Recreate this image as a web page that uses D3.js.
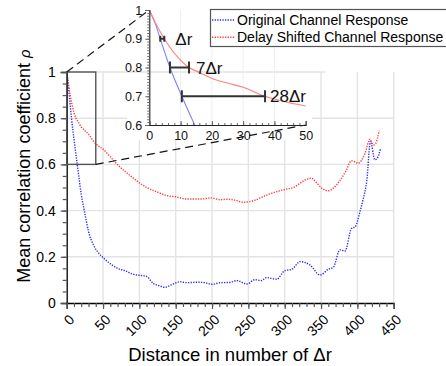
<!DOCTYPE html>
<html>
<head>
<meta charset="utf-8">
<script src="https://cdn.jsdelivr.net/npm/d3@7"></script>
<style>
  body { margin: 0; background: #fff; }
  text { font-family: "Liberation Sans", Arial, Helvetica, sans-serif; }
</style>
</head>
<body>
<svg id="chart"></svg>
<script>
// values
const origDist = [0, 2, 3.5, 6.6, 10.4, 14.5, 17, 20, 23, 27, 30, 37, 43, 49, 60, 70, 80, 92, 105, 110, 119, 127, 135, 145, 156, 165, 179, 190, 199.5, 212, 225, 234, 248, 259, 268, 275, 289, 300, 310, 321, 335, 348.6, 360, 367, 376, 383, 392, 397, 403.6, 408, 413, 418, 424, 427, 432];
const origRho = [1, 0.95, 0.9, 0.8, 0.7, 0.6, 0.54, 0.47, 0.42, 0.355, 0.31, 0.25, 0.22, 0.2, 0.17, 0.15, 0.14, 0.124, 0.118, 0.115, 0.085, 0.075, 0.068, 0.08, 0.092, 0.088, 0.09, 0.088, 0.081, 0.088, 0.089, 0.097, 0.082, 0.101, 0.097, 0.11, 0.103, 0.14, 0.146, 0.179, 0.164, 0.121, 0.146, 0.155, 0.23, 0.225, 0.323, 0.33, 0.395, 0.45, 0.53, 0.7, 0.62, 0.625, 0.67];

const shiftDist = [0, 2, 4.8, 8, 12.7, 16, 20, 25, 30, 37, 45, 50, 58, 66.5, 80, 92, 100, 112, 125, 137.6, 150, 165, 184, 199.5, 211, 220, 229, 243, 257, 275, 293.5, 305, 312, 321, 330, 337, 344, 351, 360, 368, 376, 384, 392, 401, 410.5, 417.4, 422, 425, 430];
const shiftRho = [1, 0.955, 0.9, 0.85, 0.8, 0.783, 0.762, 0.746, 0.731, 0.7, 0.677, 0.666, 0.64, 0.61, 0.57, 0.54, 0.52, 0.497, 0.48, 0.465, 0.46, 0.45, 0.45, 0.455, 0.447, 0.449, 0.447, 0.436, 0.443, 0.467, 0.486, 0.495, 0.5, 0.518, 0.535, 0.54, 0.52, 0.497, 0.486, 0.5, 0.53, 0.57, 0.616, 0.605, 0.648, 0.709, 0.684, 0.69, 0.746];

const seriesNames = ['Original Channel Response', 'Delay Shifted Channel Response'];
const seriesColors = ['#2a2aff', '#ff3a3a'];
const insetColors = ['#8080ff', '#ff8080'];

const xTicks = [0, 50, 100, 150, 200, 250, 300, 350, 400, 450];
const yTicks = [0, 0.2, 0.4, 0.6, 0.8, 1];
const insetXTicks = [0, 10, 20, 30, 40, 50];
const insetYTicks = [0.6, 0.7, 0.8, 0.9, 1];

// zoom box in main plot, and the inset's range
const zoomX = [0, 40];
const zoomY = [0.6, 1];
const insetXDomain = [0, 50];

// spacing brackets in the inset
const bracketRho = [0.9, 0.8, 0.7];
const bracketFrom = [3.5, 6.6, 10.4];
const bracketTo = [4.8, 12.7, 37];
const bracketText = ['\u0394r', '7\u0394r', '28\u0394r'];
const bracketGap = [11, 7, 5];

const W = 446, H = 366;
const svg = d3.select('#chart').attr('width', W).attr('height', H);
svg.append('rect').attr('width', W).attr('height', H).attr('fill', '#fff');

const x = d3.scaleLinear().domain([0, 450]).range([66.7, 393.7]);
const y = d3.scaleLinear().domain([0, 1]).range([303, 72]);
const xi = d3.scaleLinear().domain(insetXDomain).range([149.3, 305.7]);
const yi = d3.scaleLinear().domain(zoomY).range([125, 10]);

const origPts = origDist.map((d, i) => [d, origRho[i]]);
const shiftPts = shiftDist.map((d, i) => [d, shiftRho[i]]);

// main grid
const grid = svg.append('g').attr('stroke', '#e3e3e3').attr('stroke-width', 1.4);
grid.selectAll('line.v').data(xTicks.slice(1)).enter().append('line')
  .attr('x1', d => x(d)).attr('x2', d => x(d))
  .attr('y1', y(1)).attr('y2', y(0));
grid.selectAll('line.h').data(yTicks.slice(1)).enter().append('line')
  .attr('x1', x(0)).attr('x2', d => d === 1 ? 325 : x(450))
  .attr('y1', d => y(d)).attr('y2', d => y(d));

// inset background hides the main grid under it
svg.append('rect')
  .attr('x', 127).attr('y', 73).attr('width', 185).attr('height', 67)
  .attr('fill', '#fff');

const mainLine = d3.line().x(d => x(d[0])).y(d => y(d[1])).curve(d3.curveMonotoneX);

svg.append('path').datum(origPts)
  .attr('d', mainLine).attr('fill', 'none')
  .attr('stroke', seriesColors[0]).attr('stroke-width', 1.4)
  .attr('stroke-dasharray', '1.3 1.3');
svg.append('path').datum(shiftPts)
  .attr('d', mainLine).attr('fill', 'none')
  .attr('stroke', seriesColors[1]).attr('stroke-width', 1.4)
  .attr('stroke-dasharray', '1.3 1.3');

// main axes
const yAxis = svg.append('g').attr('transform', `translate(${x(0)},0)`)
  .call(d3.axisLeft(y).tickValues(yTicks).tickSize(6).tickPadding(5)
    .tickFormat(d => (d === 0 || d === 1) ? String(d) : d.toFixed(1)));
svg.append('g').attr('transform', `translate(${x(0)},0)`)
  .call(d3.axisLeft(y).tickValues(d3.range(0, 1.0001, 0.05)).tickSize(4).tickFormat(''))
  .call(g => g.select('.domain').remove());
yAxis.selectAll('text').attr('font-size', 14).attr('fill', '#000');

svg.append('g').attr('transform', `translate(0,${y(0)})`)
  .call(d3.axisBottom(x).tickValues(xTicks).tickSize(6).tickFormat(''));
svg.append('g').attr('transform', `translate(0,${y(0)})`)
  .call(d3.axisBottom(x).tickValues(d3.range(0, 451, 10)).tickSize(4).tickFormat(''))
  .call(g => g.select('.domain').remove());

svg.selectAll('.tick line').attr('stroke', '#555').attr('stroke-width', 1.2);
svg.selectAll('.domain').attr('stroke', '#000').attr('stroke-width', 1.3);

svg.append('g').selectAll('text').data(xTicks).enter().append('text')
  .attr('transform', d => `translate(${x(d) + 8.5},320.5) rotate(-45)`)
  .attr('text-anchor', 'end').attr('font-size', 14).attr('fill', '#000')
  .text(d => d);

svg.append('text')
  .attr('x', 230).attr('y', 361).attr('text-anchor', 'middle')
  .attr('font-size', 18.5).text('Distance in number of \u0394r');

const yTitle = svg.append('text')
  .attr('transform', 'translate(30,166) rotate(-90)')
  .attr('text-anchor', 'middle').attr('font-size', 18);
yTitle.append('tspan').text('Mean correlation coefficient ');
yTitle.append('tspan').attr('font-style', 'italic').attr('font-size', 15).text('\u03c1');

// zoom box and connector lines
svg.append('rect')
  .attr('x', x(zoomX[0])).attr('y', y(zoomY[1]))
  .attr('width', x(zoomX[1]) - x(zoomX[0])).attr('height', y(zoomY[0]) - y(zoomY[1]))
  .attr('fill', 'none').attr('stroke', '#555').attr('stroke-width', 1.4);

const connectors = [
  [[x(zoomX[0]), y(zoomY[1])], [xi(insetXDomain[0]), yi(zoomY[1])]],
  [[x(zoomX[1]), y(zoomY[0])], [xi(insetXDomain[1]), yi(zoomY[0])]]
];
svg.append('g').selectAll('line').data(connectors).enter().append('line')
  .attr('x1', d => d[0][0]).attr('y1', d => d[0][1])
  .attr('x2', d => d[1][0]).attr('y2', d => d[1][1])
  .attr('stroke', '#111').attr('stroke-width', 1.2)
  .attr('stroke-dasharray', '8 5');

// inset
const inset = svg.append('g');
inset.append('g').attr('stroke', '#eeeeee').attr('stroke-width', 1)
  .selectAll('line').data(insetXTicks.slice(1, -1)).enter().append('line')
  .attr('x1', d => xi(d)).attr('x2', d => xi(d))
  .attr('y1', yi(1)).attr('y2', yi(0.6));

svg.append('clipPath').attr('id', 'insetClip').append('rect')
  .attr('x', xi(0)).attr('y', yi(1))
  .attr('width', xi(50) - xi(0)).attr('height', yi(0.6) - yi(1));

const insetLine = d3.line().x(d => xi(d[0])).y(d => yi(d[1])).curve(d3.curveMonotoneX);
const insetCurves = inset.append('g').attr('clip-path', 'url(#insetClip)');
insetCurves.append('path').datum(origPts.filter(d => d[0] <= 60))
  .attr('d', insetLine).attr('fill', 'none')
  .attr('stroke', insetColors[0]).attr('stroke-width', 1.1);
insetCurves.append('path').datum(shiftPts.filter(d => d[0] <= 60))
  .attr('d', insetLine).attr('fill', 'none')
  .attr('stroke', insetColors[1]).attr('stroke-width', 1.1);

inset.append('g').attr('transform', `translate(${xi(0)},0)`)
  .call(d3.axisLeft(yi).tickValues(insetYTicks).tickSize(4).tickPadding(3)
    .tickFormat(d => d === 1 ? '1' : d.toFixed(1)));
inset.append('g').attr('transform', `translate(${xi(0)},0)`)
  .call(d3.axisLeft(yi).tickValues(d3.range(0.6, 1.0001, 0.01)).tickSize(2).tickFormat(''))
  .call(g => g.select('.domain').remove());
inset.append('g').attr('transform', `translate(0,${yi(0.6)})`)
  .call(d3.axisBottom(xi).tickValues(insetXTicks).tickSize(-4).tickPadding(6));
inset.append('g').attr('transform', `translate(0,${yi(0.6)})`)
  .call(d3.axisBottom(xi).tickValues(d3.range(0, 51, 2)).tickSize(-2).tickFormat(''))
  .call(g => g.select('.domain').remove());
inset.selectAll('text').attr('font-size', 12.5).attr('fill', '#111');
inset.selectAll('.tick line').attr('stroke', '#666');
inset.selectAll('.domain').attr('stroke', '#222').attr('stroke-width', 1.1);

// brackets
const br = inset.append('g').attr('stroke', '#333').attr('stroke-width', 2);
bracketRho.forEach((r, i) => {
  const h = i === 0 ? 3 : 6;
  br.append('line').attr('x1', xi(bracketFrom[i])).attr('x2', xi(bracketTo[i]))
    .attr('y1', yi(r)).attr('y2', yi(r));
  [bracketFrom[i], bracketTo[i]].forEach(v => {
    br.append('line').attr('x1', xi(v)).attr('x2', xi(v))
      .attr('y1', yi(r) - h).attr('y2', yi(r) + h);
  });
});
inset.append('g').selectAll('text').data(bracketText).enter().append('text')
  .attr('x', (d, i) => xi(bracketTo[i]) + bracketGap[i])
  .attr('y', (d, i) => yi(bracketRho[i]) + 6)
  .attr('font-family', 'Lato, "Open Sans", sans-serif')
  .attr('font-size', 17).attr('fill', '#111')
  .text(d => d);

// legend
const legend = svg.append('g');
legend.append('rect').attr('x', 210.5).attr('y', 9.5).attr('width', 240).attr('height', 37)
  .attr('fill', '#fff').attr('stroke', '#555').attr('stroke-width', 1.2);
seriesNames.forEach((name, i) => {
  const ly = 20 + i * 17.3;
  legend.append('line').attr('x1', 212).attr('x2', 235).attr('y1', ly).attr('y2', ly)
    .attr('stroke', seriesColors[i]).attr('stroke-width', 1.4)
    .attr('stroke-dasharray', '1.3 1.3');
  legend.append('text').attr('x', 237).attr('y', ly + 5)
    .attr('font-size', 14).attr('fill', '#000').text(name);
});
</script>
</body>
</html>
